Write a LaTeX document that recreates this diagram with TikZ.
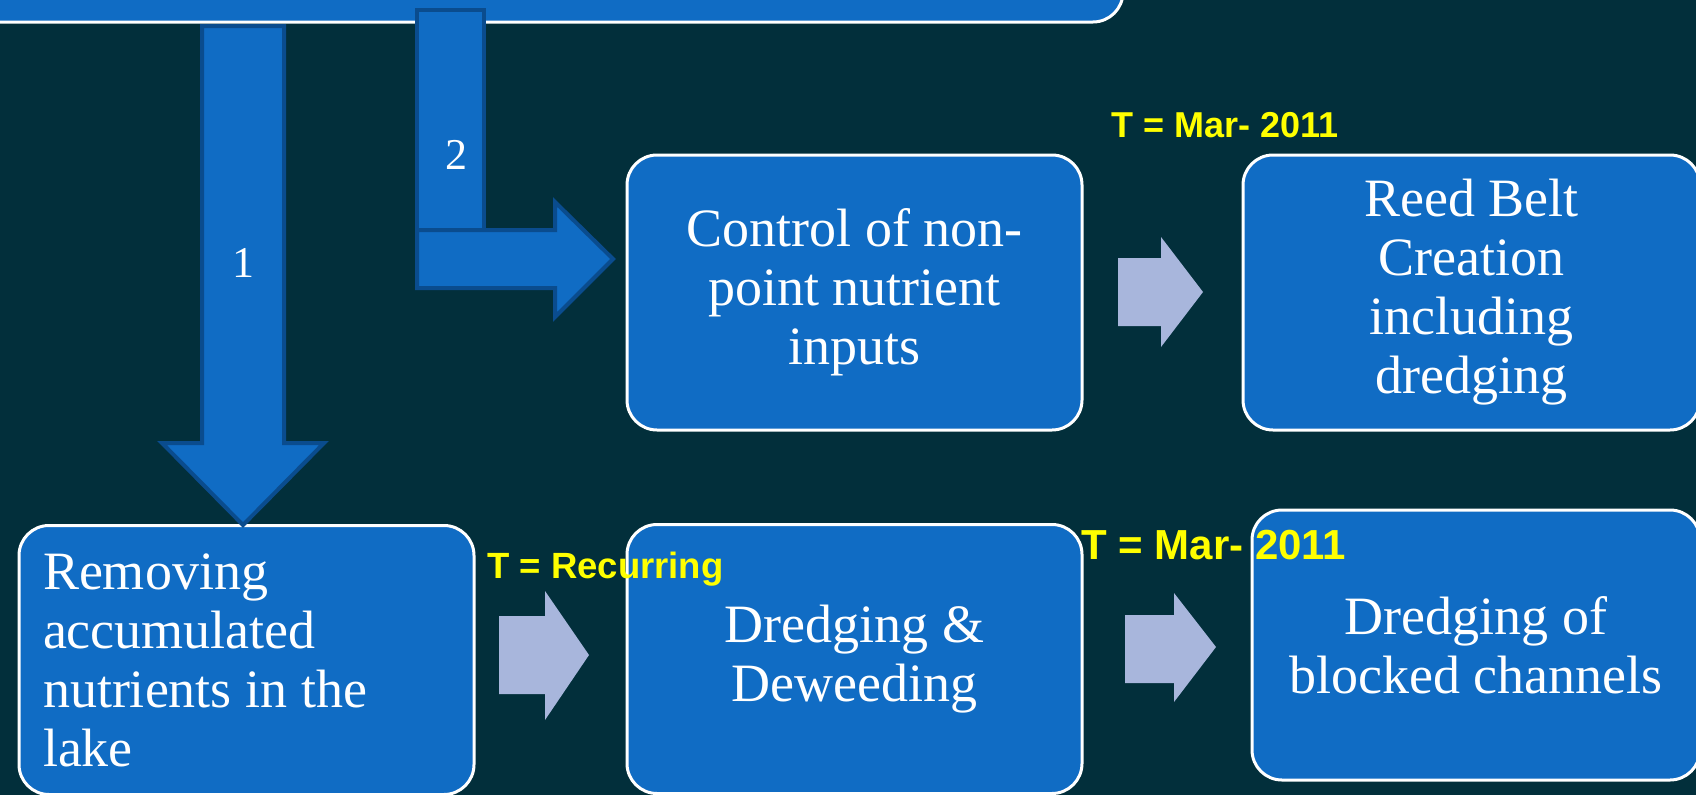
\documentclass[tikz,border=0pt]{standalone}
\usepackage{fontspec}
\setmainfont{Liberation Serif}
\newfontfamily\labelfont{Liberation Sans}
\definecolor{bg}{RGB}{2,47,59}
\definecolor{boxblue}{RGB}{16,108,196}
\definecolor{arrowedge}{RGB}{10,76,142}
\definecolor{lightarr}{RGB}{168,182,220}
\definecolor{tyellow}{RGB}{255,255,0}
\tikzset{
  box/.style={draw=white, line width=3pt, fill=boxblue, rounded corners=30pt,
    text=white, font=\fontsize{54}{59}\selectfont, align=center, inner sep=0pt},
  blockarrow/.style={draw=arrowedge, line width=4pt, fill=boxblue, line join=miter},
  lightarrow/.style={fill=lightarr},
  tlabel/.style={text=tyellow, inner sep=0pt, anchor=base west},
  num/.style={text=white, font=\fontsize{44}{44}\selectfont, inner sep=0pt}
}
\begin{document}
\begin{tikzpicture}[x=1pt,y=-1pt]
\fill[bg] (0,0) rectangle (1696,795);
\useasboundingbox (0,0) rectangle (1696,795);

% top box (mostly outside)
\node[box, minimum width=1163, minimum height=200] (top) at (541.5,-78) {};

% boxes
\node[box, minimum width=455, minimum height=275] (control) at (854.5,292.5)
  {Control of non-\\point nutrient\\inputs};
\node[box, minimum width=457, minimum height=275] (reed) at (1471.5,292.5)
  {Reed Belt\\Creation\\including\\dredging};
\node[box, minimum width=455, minimum height=269, text width=407, align=flush left] (remove) at (246.5,660)
  {Removing\\accumulated\\nutrients in the\\lake};
\node[box, minimum width=455, minimum height=269] (dredge) at (854.5,659)
  {Dredging \&\\Deweeding};
\node[box, minimum width=448, minimum height=270] (blocked) at (1476,645)
  {Dredging of\\blocked channels};

% block arrow 1 (down)
\draw[blockarrow] (202,26) -- (284,26) -- (284,443) -- (324,443) -- (243,525)
  -- (162,443) -- (202,443) -- cycle;
% block arrow 2 (bent)
\draw[blockarrow] (417,10) rectangle (484,232);
\draw[blockarrow] (417,230) -- (555,230) -- (555,202) -- (613,259) -- (555,317)
  -- (555,288) -- (417,288) -- cycle;
\node[num] (n1) at (243,263) {1};
\node[num] (n2) at (456,155) {2};

% light arrows
\fill[lightarrow] (1118,258) -- (1161,258) -- (1161,237) -- (1203,292) -- (1161,347)
  -- (1161,326) -- (1118,326) -- cycle;
\fill[lightarrow] (499,616) -- (545,616) -- (545,591) -- (589,655) -- (545,720)
  -- (545,694) -- (499,694) -- cycle;
\fill[lightarrow] (1125,615) -- (1174,615) -- (1174,593) -- (1216,647) -- (1174,702)
  -- (1174,683) -- (1125,683) -- cycle;

% yellow labels
\node[tlabel, font=\labelfont\bfseries\fontsize{36}{36}\selectfont] (t1) at (1111,137) {T = Mar- 2011};
\node[tlabel, font=\labelfont\bfseries\fontsize{36.5}{36.5}\selectfont] (t2) at (487,578) {T = Recurring};
\node[tlabel, font=\labelfont\bfseries\fontsize{42}{42}\selectfont] (t3) at (1081,559) {T = Mar- 2011};
\end{tikzpicture}
\end{document}
